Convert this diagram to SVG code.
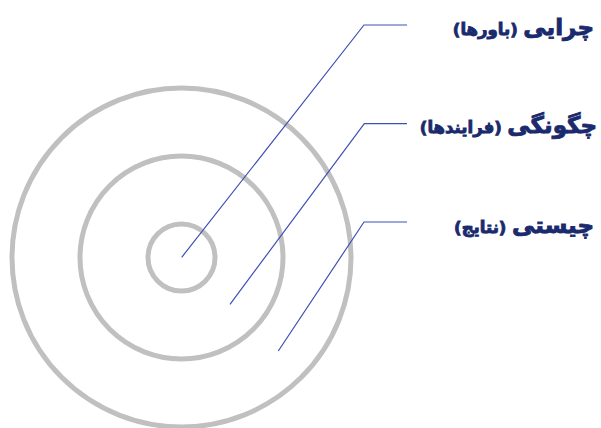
<svg xmlns="http://www.w3.org/2000/svg" width="601" height="428" viewBox="0 0 601 428">
<style>
.ring{fill:none;stroke:#c0c0c0;stroke-width:5}
.conn{fill:none;stroke:#3e50b4;stroke-width:1.2}
.lbl{font-family:"DejaVu Sans",sans-serif;font-weight:bold;fill:#1a2a6c;stroke:#1a2a6c;stroke-width:0.9}
.big{font-size:23px}
.small{font-size:16.5px}
</style>
<rect width="601" height="428" fill="#ffffff"/>
<g id="outer"><circle class="ring" cx="181.5" cy="257.5" r="169.5"/></g>
<g id="middle"><circle class="ring" cx="181.5" cy="257.5" r="101.5"/></g>
<g id="inner"><circle class="ring" cx="181.5" cy="257.5" r="33.5"/></g>
<g id="connectors">
<polyline class="conn" points="181.7,257.3 364,25 407,25"/>
<polyline class="conn" points="230,304.3 364.3,123.7 407,123.7"/>
<polyline class="conn" points="278.3,351 364,222 407,222"/>
</g>
<g id="label1">
<text class="lbl" x="594" y="35" direction="rtl" text-anchor="start"><tspan class="big">چرایی</tspan> <tspan class="small">(باورها)</tspan></text>
</g>
<g id="label2">
<text class="lbl" x="597" y="133" direction="rtl" text-anchor="start"><tspan class="big">چگونگی</tspan> <tspan class="small">(فرایندها)</tspan></text>
</g>
<g id="label3">
<text class="lbl" x="594" y="233" direction="rtl" text-anchor="start"><tspan class="big">چیستی</tspan> <tspan class="small">(نتایج)</tspan></text>
</g>
</svg>
